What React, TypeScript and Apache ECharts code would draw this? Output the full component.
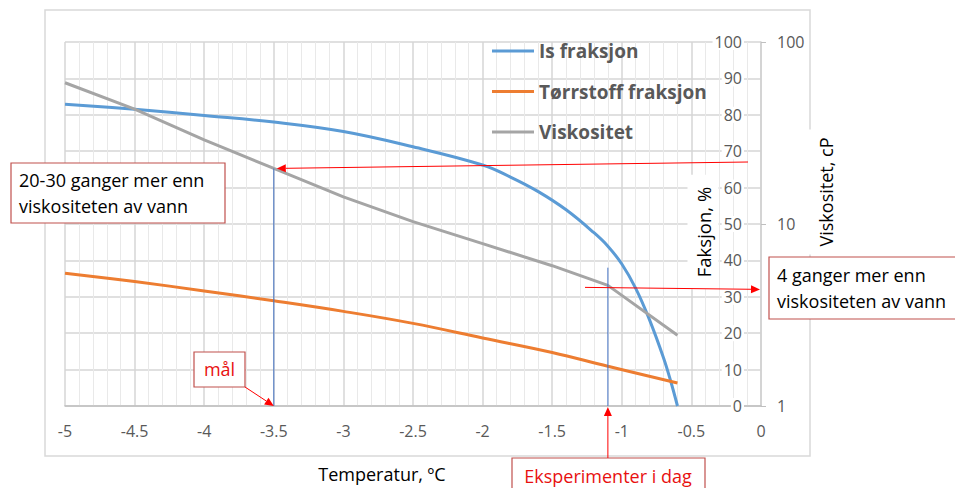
import React, { useEffect, useRef } from "react";
import * as echarts from "echarts";

// ---- data ----
const TEMPS_IS = [-5, -4.5, -4, -3.5, -3, -2.5, -2, -1.8, -1.6, -1.4, -1.2, -1.1, -1, -0.9, -0.8, -0.7, -0.65, -0.6];
const IS_FRAKSJON = [82.9, 81.5, 79.8, 78.0, 75.4, 71.2, 66.2, 62.9, 58.9, 53.9, 47.6, 43.9, 39.0, 32.3, 23.6, 13.2, 7.0, 0];

const TEMPS_TS = [-5, -4.5, -4, -3.5, -3, -2.5, -2, -1.5, -1.1, -0.6];
const TORRSTOFF = [36.5, 34.2, 31.6, 28.9, 26.0, 22.7, 18.7, 14.7, 10.9, 6.3];

const TEMPS_VISK = [-5, -4.5, -4, -3.5, -3, -2.5, -2, -1.5, -1.1, -0.6];
const VISKOSITET = [59.7, 42.8, 29.0, 20.2, 14.1, 10.3, 7.8, 5.9, 4.6, 2.45];

const X_MIN = -5;
const X_MAX = 0;
const X_STEP = 0.5;
const Y_MIN = 0;
const Y_MAX = 100;
const Y_STEP = 10;
const LOG_MIN = 1;
const LOG_MAX = 100;

const SERIES_NAMES = ["Is fraksjon", "Tørrstoff fraksjon", "Viskositet"];
const SERIES_COLORS = ["#5b9bd5", "#ed7d31", "#a5a5a5"];

// annotation anchors (data values)
const TARGET_TEMP = -3.5; // "mål"
const TODAY_TEMP = -1.1; // "Eksperimenter i dag"
const TODAY_GUIDE_TOP = 38;

const FONT = "'Open Sans', 'DejaVu Sans', sans-serif";
const RED = "#ff0000";
const BOX_RED = "#c0504d";
const TEXT_RED = "#e81010";
const GUIDE_BLUE = "#4472c4";

const zip = (xs: number[], ys: number[]) => xs.map((x, i) => [x, ys[i]]);

function arrow(x1: number, y1: number, x2: number, y2: number) {
  const dx = x2 - x1;
  const dy = y2 - y1;
  const len = Math.sqrt(dx * dx + dy * dy);
  const ux = dx / len;
  const uy = dy / len;
  const hl = 9;
  const hw = 4;
  const bx = x2 - ux * hl;
  const by = y2 - uy * hl;
  return [
    {
      type: "line",
      z: 100,
      shape: { x1, y1, x2: bx, y2: by },
      style: { stroke: RED, lineWidth: 1 },
      silent: true,
    },
    {
      type: "polygon",
      z: 100,
      shape: {
        points: [
          [x2, y2],
          [bx - uy * hw, by + ux * hw],
          [bx + uy * hw, by - ux * hw],
        ],
      },
      style: { fill: RED },
      silent: true,
    },
  ];
}

export default function App() {
  const ref = useRef<HTMLDivElement>(null);

  useEffect(() => {
    const chart = echarts.init(ref.current!, undefined, { renderer: "svg" });
    const option: any = {
      animation: false,
      backgroundColor: "#ffffff",
      textStyle: { fontFamily: FONT },
      grid: { left: 65, right: 194, top: 42, bottom: 82 },
      legend: {
        orient: "vertical",
        left: 487,
        top: 35,
        itemWidth: 42,
        itemHeight: 3,
        itemGap: 18.5,
        icon: "rect",
        data: SERIES_NAMES,
        textStyle: {
          fontFamily: FONT,
          fontSize: 19,
          fontWeight: "bold",
          color: "#595959",
          lineHeight: 22,
        },
      },
      xAxis: {
        type: "value",
        min: X_MIN,
        max: X_MAX,
        interval: X_STEP,
        name: "Temperatur, ºC",
        nameLocation: "middle",
        nameGap: 59,
        nameTextStyle: { fontFamily: FONT, fontSize: 18, color: "#000", padding: [0, 62, 0, 0] },
        axisLine: { show: true, lineStyle: { color: "#bfbfbf", width: 1.5 } },
        axisTick: { show: false },
        axisLabel: { fontFamily: FONT, fontSize: 16, color: "#595959", margin: 17 },
        splitLine: { show: true, lineStyle: { color: "#d6d6d6", width: 1.5 } },
        minorTick: { show: false, splitNumber: 5 },
        minorSplitLine: { show: true, lineStyle: { color: "#e9e9e9", width: 1 } },
      },
      yAxis: [
        {
          type: "value",
          position: "right",
          min: Y_MIN,
          max: Y_MAX,
          interval: Y_STEP,
          axisLine: { show: false },
          axisTick: { show: false },
          axisLabel: {
            inside: true,
            margin: 17,
            fontFamily: FONT,
            fontSize: 16,
            color: "#595959",
            backgroundColor: "#ffffff",
            padding: [0, 2, 0, 2],
          },
          splitLine: { show: true, lineStyle: { color: "#d6d6d6", width: 1.5 } },
        },
        {
          type: "log",
          logBase: 10,
          position: "right",
          min: LOG_MIN,
          max: LOG_MAX,
          axisLine: { show: true, lineStyle: { color: "#d0d0d0", width: 1.5 } },
          axisTick: { show: true, inside: false, length: 5, lineStyle: { color: "#bfbfbf" } },
          axisLabel: { margin: 16, fontFamily: FONT, fontSize: 16, color: "#595959" },
          splitLine: { show: false },
        },
      ],
      series: [
        {
          name: SERIES_NAMES[0],
          type: "line",
          data: zip(TEMPS_IS, IS_FRAKSJON),
          yAxisIndex: 0,
          smooth: 0.4,
          showSymbol: false,
          symbol: "none",
          lineStyle: { width: 3, color: SERIES_COLORS[0] },
          itemStyle: { color: SERIES_COLORS[0] },
          z: 3,
        },
        {
          name: SERIES_NAMES[1],
          type: "line",
          data: zip(TEMPS_TS, TORRSTOFF),
          yAxisIndex: 0,
          smooth: 0.4,
          showSymbol: false,
          symbol: "none",
          lineStyle: { width: 3, color: SERIES_COLORS[1] },
          itemStyle: { color: SERIES_COLORS[1] },
          z: 3,
        },
        {
          name: SERIES_NAMES[2],
          type: "line",
          data: zip(TEMPS_VISK, VISKOSITET),
          yAxisIndex: 1,
          smooth: false,
          showSymbol: false,
          symbol: "none",
          lineStyle: { width: 3, color: SERIES_COLORS[2] },
          itemStyle: { color: SERIES_COLORS[2] },
          z: 3,
        },
      ],
    };
    chart.setOption(option);

    const px = (x: number, y: number, yi = 0) =>
      chart.convertToPixel({ xAxisIndex: 0, yAxisIndex: yi } as any, [x, y]) as number[];

    const viscAtTarget = VISKOSITET[TEMPS_VISK.indexOf(TARGET_TEMP)];
    const viscAtToday = VISKOSITET[TEMPS_VISK.indexOf(TODAY_TEMP)];
    const gTargetTop = px(TARGET_TEMP, viscAtTarget, 1);
    const gTargetBot = px(TARGET_TEMP, Y_MIN, 0);
    const gTodayTop = px(TODAY_TEMP, TODAY_GUIDE_TOP, 0);
    const gTodayBot = px(TODAY_TEMP, Y_MIN, 0);
    const todayVisc = px(TODAY_TEMP, viscAtToday, 1);
    const rightEdge = px(X_MAX, Y_MIN, 0);

    const graphic: any[] = [
      // outer chart frame
      {
        type: "rect",
        z: -10,
        silent: true,
        shape: { x: 45, y: 10, width: 765, height: 446 },
        style: { fill: "none", stroke: "#d9d9d9", lineWidth: 1.5 },
      },
      // axis titles
      {
        type: "text",
        z: 50,
        x: 703,
        y: 232,
        rotation: Math.PI / 2,
        style: {
          text: "Faksjon, %",
          font: `18.5px ${FONT}`,
          fill: "#000",
          align: "center",
          verticalAlign: "middle",
          backgroundColor: "#ffffff",
          padding: [6, 12, 6, 12],
        },
      },
      {
        type: "text",
        z: 50,
        x: 826,
        y: 192,
        rotation: Math.PI / 2,
        style: {
          text: "Viskositet, cP",
          font: `18px ${FONT}`,
          fill: "#000",
          align: "center",
          verticalAlign: "middle",
          backgroundColor: "#ffffff",
          padding: [8, 8, 8, 8],
        },
      },
      // blue guide lines
      {
        type: "line",
        z: 90,
        silent: true,
        shape: { x1: gTargetTop[0], y1: gTargetTop[1], x2: gTargetBot[0], y2: gTargetBot[1] },
        style: { stroke: GUIDE_BLUE, lineWidth: 1 },
      },
      {
        type: "line",
        z: 90,
        silent: true,
        shape: { x1: gTodayTop[0], y1: gTodayTop[1], x2: gTodayBot[0], y2: gTodayBot[1] },
        style: { stroke: GUIDE_BLUE, lineWidth: 1 },
      },
      // arrows
      ...arrow(rightEdge[0] - 13, 162, gTargetTop[0] + 3, gTargetTop[1]),
      ...arrow(585, todayVisc[1] + 2, rightEdge[0] - 1, todayVisc[1] + 4),
      ...arrow(245, 387, gTargetBot[0], gTargetBot[1]),
      ...arrow(gTodayBot[0], 458, gTodayBot[0], gTodayBot[1] + 1),
      // boxes
      {
        type: "rect",
        z: 95,
        shape: { x: 11, y: 163, width: 214, height: 60 },
        style: { fill: "#ffffff", stroke: BOX_RED, lineWidth: 1.2 },
      },
      {
        type: "text",
        z: 96,
        x: 19,
        y: 193,
        style: {
          text: "20-30 ganger mer enn\nviskositeten av vann",
          font: `18px ${FONT}`,
          fill: "#000",
          align: "left",
          verticalAlign: "middle",
          lineHeight: 26,
        },
      },
      {
        type: "rect",
        z: 95,
        shape: { x: 769, y: 257, width: 190, height: 62 },
        style: { fill: "#ffffff", stroke: BOX_RED, lineWidth: 1.2 },
      },
      {
        type: "text",
        z: 96,
        x: 777,
        y: 288,
        style: {
          text: "4 ganger mer enn\nviskositeten av vann",
          font: `18px ${FONT}`,
          fill: "#000",
          align: "left",
          verticalAlign: "middle",
          lineHeight: 26,
        },
      },
      {
        type: "rect",
        z: 95,
        shape: { x: 194, y: 352, width: 51, height: 35 },
        style: { fill: "#ffffff", stroke: BOX_RED, lineWidth: 1.2 },
      },
      {
        type: "text",
        z: 96,
        x: 219.5,
        y: 369,
        style: {
          text: "mål",
          font: `18px ${FONT}`,
          fill: TEXT_RED,
          align: "center",
          verticalAlign: "middle",
        },
      },
      {
        type: "rect",
        z: 95,
        shape: { x: 512, y: 458, width: 193, height: 40 },
        style: { fill: "#ffffff", stroke: BOX_RED, lineWidth: 1.2 },
      },
      {
        type: "text",
        z: 96,
        x: 608,
        y: 476,
        style: {
          text: "Eksperimenter i dag",
          font: `18px ${FONT}`,
          fill: TEXT_RED,
          align: "center",
          verticalAlign: "middle",
        },
      },
    ];
    chart.setOption({ graphic });

    return () => chart.dispose();
  }, []);

  return (
    <div
      ref={ref}
      style={{ position: "fixed", left: 0, top: 0, width: 955, height: 488 }}
    />
  );
}
